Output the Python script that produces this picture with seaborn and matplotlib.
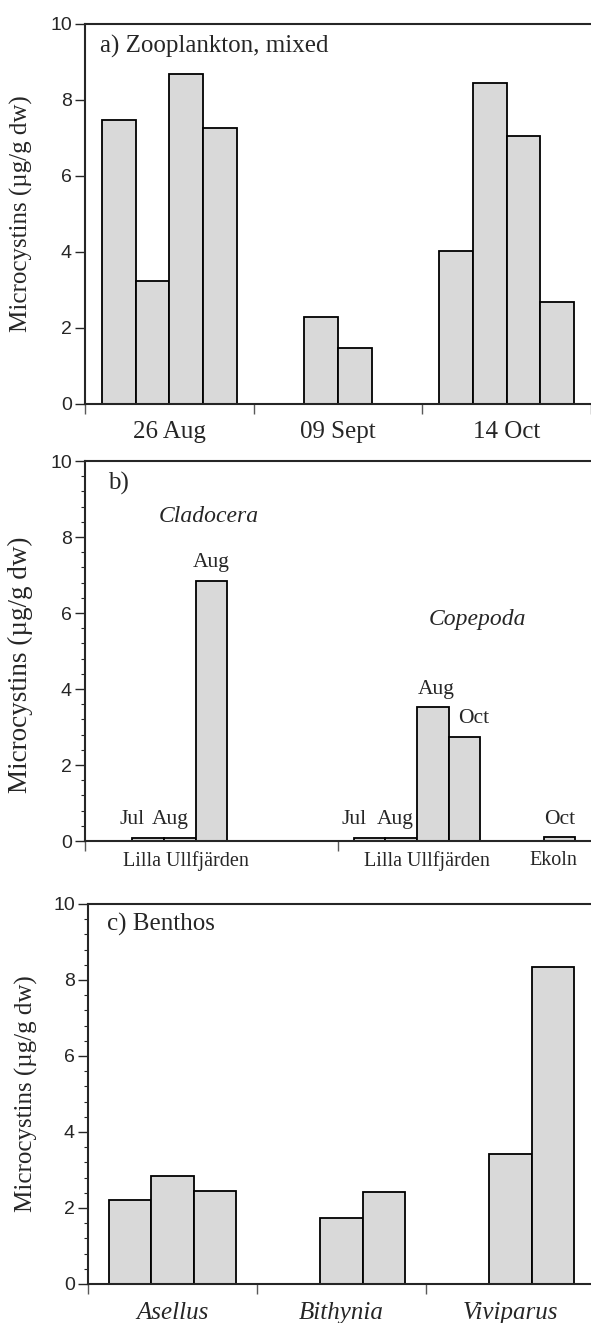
import numpy as np
import pandas as pd
import matplotlib.pyplot as plt
import seaborn as sns
from matplotlib.ticker import MultipleLocator, FixedLocator

# ---- data ----
# a) mixed zooplankton, four samples per date (nan = no sample)
dates_a = ["26 Aug", "09 Sept", "14 Oct"]
zoo_aug = [7.48, 3.24, 8.68, 7.27]
zoo_sep = [np.nan, 2.30, 1.47, np.nan]
zoo_oct = [4.02, 8.45, 7.05, 2.68]

# b) Cladocera / Copepoda by site and month
clad_months = ["Jul", "Aug", "Aug"]
clad_vals = [0.09, 0.09, 6.85]
cope_months = ["Jul", "Aug", "Aug", "Oct"]
cope_vals = [0.09, 0.09, 3.52, 2.75]
ekoln_months = ["Oct"]
ekoln_vals = [0.10]
sites_b = ["Lilla Ullfjärden", "Lilla Ullfjärden", "Ekoln"]

# c) benthos
taxa_c = ["Asellus", "Bithynia", "Viviparus"]
asellus = [2.20, 2.85, 2.44]
bithynia = [np.nan, 1.75, 2.42]
viviparus = [np.nan, 3.43, 8.33]

ylab = "Microcystins (µg/g dw)"
fill = "#d9d9d9"

sns.set_style("ticks")
serif = ["Liberation Serif", "DejaVu Serif"]
plt.rcParams["font.family"] = ["Liberation Sans", "DejaVu Sans"]
plt.rcParams["axes.linewidth"] = 1.5

fig = plt.figure(figsize=(5.91, 13.23), dpi=100)
W, H = 591, 1323
def px_axes(left, top, width, height):
    return fig.add_axes([left / W, 1 - (top + height) / H, width / W, height / H])

ax_a = px_axes(85, 24, 506, 380)
ax_b = px_axes(85, 461, 506, 380)
ax_c = px_axes(88, 904, 507, 380)

def style_y(ax, minor):
    ax.set_ylim(0, 10)
    ax.yaxis.set_major_locator(MultipleLocator(2))
    if minor:
        ax.yaxis.set_minor_locator(MultipleLocator(0.4))
    ax.tick_params(axis="y", which="major", length=7.5, width=1, pad=2,
                   labelsize=14, direction="out")
    ax.tick_params(axis="y", which="minor", length=3, width=0.8, direction="out")
    ax.spines["right"].set_visible(False)
    for s in ["top", "left", "bottom"]:
        ax.spines[s].set_linewidth(1.5)
    ax.set_ylabel(ylab, family=serif, fontsize=18)

def style_x(ax, label_pos, labels, edges, size, pad, italic=False):
    ax.xaxis.set_major_locator(FixedLocator(label_pos))
    ax.set_xticklabels(labels, family=serif, fontsize=size,
                       style="italic" if italic else "normal")
    ax.xaxis.set_minor_locator(FixedLocator(edges))
    ax.tick_params(axis="x", which="major", length=0, pad=pad)
    ax.tick_params(axis="x", which="minor", length=7, width=1, color="0.35")

# ---- a ----
slots_a = ["1", "2", "3", "4"]
df_a = pd.DataFrame({
    "date": np.repeat(dates_a, 4),
    "slot": slots_a * 3,
    "value": zoo_aug + zoo_sep + zoo_oct,
}).dropna()
sns.barplot(data=df_a, x="date", y="value", hue="slot", order=dates_a,
            hue_order=slots_a, palette=[fill] * 4, width=0.8, errorbar=None,
            edgecolor="black", linewidth=1.3, legend=False, ax=ax_a)
style_y(ax_a, minor=False)
style_x(ax_a, [0, 1, 2], dates_a, [-0.5, 0.5, 1.5, 2.5], 18, 12)
ax_a.set_xlim(-0.5, 2.5)
ax_a.set_xlabel("")
ax_a.text(0.03, 0.94, "a) Zooplankton, mixed", transform=ax_a.transAxes,
          family=serif, fontsize=18, va="center", ha="left")
ax_a.yaxis.set_label_coords(-0.103, 0.5)

# ---- b ----
starts_b = [2, 9, 15]
groups_b = [(clad_months, clad_vals), (cope_months, cope_vals), (ekoln_months, ekoln_vals)]
rows = []
for st, (months, vals) in zip(starts_b, groups_b):
    for i, (m, v) in enumerate(zip(months, vals)):
        rows.append({"pos": st + i, "month": m, "value": v})
df_b = pd.DataFrame(rows)
sns.barplot(data=df_b, x="pos", y="value", native_scale=True, color=fill,
            width=1.0, errorbar=None, edgecolor="black", linewidth=1.3, ax=ax_b)
label_shift = {2: -0.5, 3: -0.3, 9: -0.5, 10: -0.2, 11: 0.1, 12: 0.3}
for _, r in df_b.iterrows():
    ax_b.text(r["pos"] + label_shift.get(r["pos"], 0), r["value"] + 0.35, r["month"],
              family=serif, fontsize=15.5, ha="center", va="baseline")
style_y(ax_b, minor=True)
style_x(ax_b, [3.2, 10.8, 14.8], sites_b, [0, 8], 14.5, 7)
ax_b.set_xlim(0, 16)
ax_b.set_xlabel("")
ax_b.text(0.045, 0.942, "b)", transform=ax_b.transAxes, family=serif,
          fontsize=18, va="center", ha="left")
ax_b.text(3.92, 8.53, "Cladocera", family=serif, style="italic", fontsize=17,
          ha="center", va="center")
ax_b.text(12.4, 5.82, "Copepoda", family=serif, style="italic", fontsize=17,
          ha="center", va="center")
ax_b.yaxis.label.set_fontsize(19.5)
ax_b.yaxis.set_label_coords(-0.103, 0.463)

# ---- c ----
slots_c = ["1", "2", "3"]
df_c = pd.DataFrame({
    "taxon": np.repeat(taxa_c, 3),
    "slot": slots_c * 3,
    "value": asellus + bithynia + viviparus,
}).dropna()
sns.barplot(data=df_c, x="taxon", y="value", hue="slot", order=taxa_c,
            hue_order=slots_c, palette=[fill] * 3, width=0.75, errorbar=None,
            edgecolor="black", linewidth=1.3, legend=False, ax=ax_c)
style_y(ax_c, minor=True)
style_x(ax_c, [0, 1, 2], taxa_c, [-0.5, 0.5, 1.5, 2.5], 18, 13, italic=True)
ax_c.set_xlim(-0.5, 2.5)
ax_c.set_xlabel("")
ax_c.text(0.037, 0.945, "c) Benthos", transform=ax_c.transAxes, family=serif,
          fontsize=18, va="center", ha="left")
ax_c.yaxis.set_label_coords(-0.099, 0.5)

fig.savefig("out.png", dpi=100)
